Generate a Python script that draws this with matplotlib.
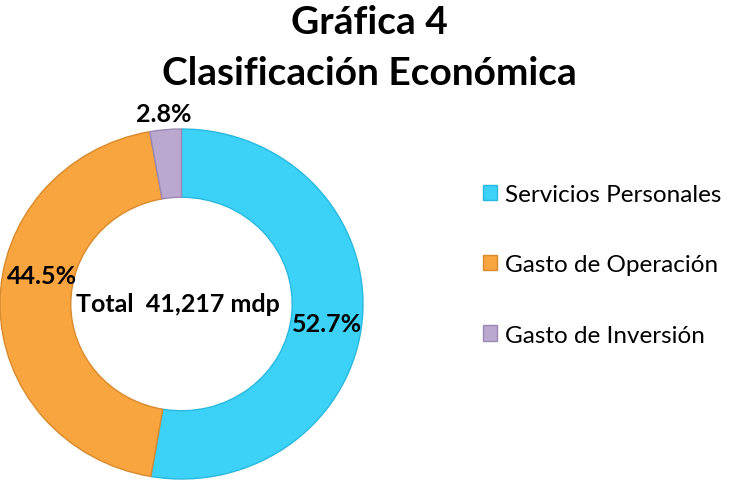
import matplotlib.pyplot as plt

# datos
categorias = ["Servicios Personales", "Gasto de Operación", "Gasto de Inversión"]
porcentajes = [52.7, 44.5, 2.8]
etiquetas = ["52.7%", "44.5%", "2.8%"]
colores = ["#3CD2F8", "#F8A43F", "#BBA8CF"]
bordes = ["#2BB8DE", "#D98A2C", "#9C88B4"]

plt.rcParams['font.family'] = ['Lato', 'DejaVu Sans']

fig = plt.figure(figsize=(7.38, 4.89), dpi=100)
ax = fig.add_axes([0.0, 9/489, 363/738, 350/489])

wedges, _ = ax.pie(porcentajes, colors=colores, startangle=90, counterclock=False,
                   radius=1.0, wedgeprops=dict(width=0.39, linewidth=1.0))
for w, b in zip(wedges, bordes):
    w.set_edgecolor(b)
ax.set_xlim(-1.0, 1.0)
ax.set_ylim(-1.0, 1.0)
ax.set_aspect('auto')
ax.axis('off')

# etiquetas de porcentaje
ax.text(0.80, -0.11, etiquetas[0], ha='center', va='center', fontsize=18, fontweight='bold')
ax.text(-0.77, 0.16, etiquetas[1], ha='center', va='center', fontsize=18, fontweight='bold')
ax.text(-0.10, 1.09, etiquetas[2], ha='center', va='center', fontsize=18, fontweight='bold')
ax.text(-0.02, 0.0, "Total  41,217 mdp", ha='center', va='center', fontsize=18, fontweight='bold')

fig.text(0.5, 1 - 22/489, "Gráfica 4", ha='center', va='center', fontsize=28, fontweight='bold')
fig.text(0.5, 1 - 74/489, "Clasificación Económica", ha='center', va='center', fontsize=28, fontweight='bold')

fig.legend(wedges, categorias, loc='center left', bbox_to_anchor=(483/738, 1 - 266/489),
           frameon=False, fontsize=17.5, handlelength=0.58, handleheight=0.58,
           handletextpad=0.33, labelspacing=2.02, borderpad=0, borderaxespad=0)

fig.savefig("out.png", dpi=100)
